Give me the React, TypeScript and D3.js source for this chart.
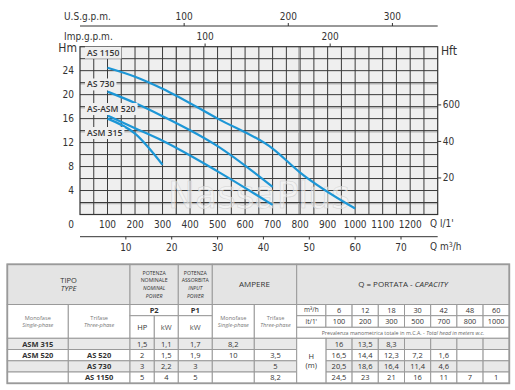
import React, { useEffect, useRef } from 'react';
import * as d3 from 'd3';

// pump curve data
const flowLpm = [100, 200, 300, 500, 700, 800, 1000];
const flowM3h = [6, 12, 18, 30, 42, 48, 60];
const headASM315 = [16, 13.5, 8.3];
const headASM520 = [16.5, 14.4, 12.3, 7.2, 1.6];
const headAS730 = [20.5, 18.6, 16.4, 11.4, 4.6];
const headAS1150 = [24.5, 23, 21, 16, 11, 7, 1];
const curveNames = ['AS 1150', 'AS 730', 'AS-ASM 520', 'ASM 315'];

// axis ticks
const lpmTicks = [100, 200, 300, 400, 500, 600, 700, 800, 900, 1000, 1100, 1200];
const headTicks = [4, 8, 12, 16, 20, 24];
const ftTicks = [20, 40, 60];
const ftTickLabels = ['20', '40', '600'];
const usGpmTicks = [100, 200, 300];
const impGpmTicks = [100, 200];
const m3hTicks = [10, 20, 30, 40, 50, 60, 70];

// table columns
const monofase = ['ASM 315', 'ASM 520', '', ''];
const trifase = ['', 'AS 520', 'AS 730', 'AS 1150'];
const powerHP = ['1,5', '2', '3', '5'];
const powerKW = ['1,1', '1,5', '2,2', '4'];
const inputKW = ['1,7', '1,9', '3', '5'];
const ampMono = ['8,2', '10', '', ''];
const ampTri = ['', '3,5', '5', '8,2'];

const CHART_FONT = "'DejaVu Sans Condensed', 'Liberation Sans Narrow', 'Roboto', sans-serif";
const TABLE_FONT = "'Open Sans', 'Noto Sans', sans-serif";

function App() {
  const ref = useRef<SVGSVGElement>(null);

  useEffect(() => {
    const svg = d3.select(ref.current);
    svg.selectAll('*').remove();

    const x = d3.scaleLinear().domain([0, 1300]).range([80, 437.7]);
    const y = d3.scaleLinear().domain([0, 28]).range([214.5, 46.7]);
    const blue = '#1c96d6';

    const g = svg.append('g').style('font-family', CHART_FONT).attr('fill', '#333');

    // plot background
    g.append('rect')
      .attr('x', x(0)).attr('y', y(28))
      .attr('width', x(1300) - x(0)).attr('height', y(0) - y(28))
      .attr('fill', '#efefef');

    // faint secondary lines
    [22, 18, 14, 2].forEach(h => {
      g.append('line').attr('x1', x(0)).attr('x2', x(1300))
        .attr('y1', y(h) + 1.2).attr('y2', y(h) + 1.2)
        .attr('stroke', '#b8b8b8').attr('stroke-width', 1.2);
    });
    [345, 790].forEach(q => {
      g.append('line').attr('y1', y(0)).attr('y2', y(28))
        .attr('x1', x(q) + 1.2).attr('x2', x(q) + 1.2)
        .attr('stroke', '#b8b8b8').attr('stroke-width', 1.2);
    });

    // grid
    g.selectAll('line.vg').data(d3.range(50, 1300, 50)).enter().append('line')
      .attr('x1', d => x(d)).attr('x2', d => x(d))
      .attr('y1', y(0)).attr('y2', y(28))
      .attr('stroke', '#3a3a3a').attr('stroke-width', 1);
    g.selectAll('line.hg').data(d3.range(2, 28, 2)).enter().append('line')
      .attr('x1', x(0)).attr('x2', x(1300))
      .attr('y1', d => y(d)).attr('y2', d => y(d))
      .attr('stroke', '#3a3a3a').attr('stroke-width', 1);

    g.append('rect')
      .attr('x', x(0)).attr('y', y(28))
      .attr('width', x(1300) - x(0)).attr('height', y(0) - y(28))
      .attr('fill', 'none').attr('stroke', '#333').attr('stroke-width', 1.2);

    // watermark
    g.append('text')
      .attr('x', 168).attr('y', 208)
      .attr('textLength', 182).attr('lengthAdjust', 'spacingAndGlyphs')
      .style('font-size', '38px')
      .attr('fill', '#f8f8f8').attr('fill-opacity', 0.55)
      .attr('stroke', '#d2d2d2').attr('stroke-width', 0.5)
      .text('NassaPlus');

    // curves
    const line = d3.line<[number, number]>()
      .x(d => x(d[0])).y(d => y(d[1]))
      .curve(d3.curveMonotoneX);
    [headAS1150, headAS730, headASM520, headASM315].forEach(heads => {
      g.append('path')
        .datum(heads.map((h, i) => [flowLpm[i], h] as [number, number]))
        .attr('d', line)
        .attr('fill', 'none')
        .attr('stroke', blue)
        .attr('stroke-width', 2.2);
    });

    // curve labels with background
    const labelH = [27.0, 21.7, 17.6, 13.6];
    curveNames.forEach((name, i) => {
      const t = g.append('text')
        .attr('x', 87).attr('y', y(labelH[i]))
        .attr('dy', '0.35em')
        .style('font-size', '8.6px')
        .style('font-weight', 600)
        .style('font-family', TABLE_FONT)
        .attr('fill', '#333')
        .text(name);
      const bb = (t.node() as SVGTextElement).getBBox();
      g.insert('rect', () => t.node() as any)
        .attr('x', bb.x - 2).attr('y', bb.y)
        .attr('width', bb.width + 4).attr('height', bb.height)
        .attr('fill', '#efefef');
    });

    // left axis
    const fs = '10px';
    g.selectAll('text.yl').data(headTicks).enter().append('text')
      .attr('x', 74).attr('y', d => y(d)).attr('dy', '0.35em')
      .attr('text-anchor', 'end').style('font-size', fs).text(d => d);
    g.append('text').attr('x', 74).attr('y', 224).attr('dy', '0.35em')
      .attr('text-anchor', 'end').style('font-size', fs).text('0');
    g.append('text').attr('x', 77).attr('y', 48).attr('dy', '0.35em')
      .attr('text-anchor', 'end').style('font-size', '12px').text('Hm');

    // right axis (feet)
    const ft = (v: number) => y(v * 0.3048);
    g.selectAll('line.rt').data(ftTicks).enter().append('line')
      .attr('x1', x(1300)).attr('x2', x(1300) + 3.5)
      .attr('y1', d => ft(d)).attr('y2', d => ft(d))
      .attr('stroke', '#333');
    g.selectAll('text.rl').data(ftTicks).enter().append('text')
      .attr('x', x(1300) + 5).attr('y', d => ft(d)).attr('dy', '0.35em')
      .style('font-size', fs).text((d, i) => ftTickLabels[i]);
    g.append('text').attr('x', 441).attr('y', 51).attr('dy', '0.35em')
      .style('font-size', '12px').text('Hft');

    // bottom l/min labels
    g.selectAll('text.xl').data(lpmTicks).enter().append('text')
      .attr('x', d => x(d)).attr('y', 224).attr('dy', '0.35em')
      .attr('text-anchor', 'middle').style('font-size', fs).text(d => d);
    g.append('text').attr('x', 430).attr('y', 223).attr('dy', '0.35em')
      .style('font-size', fs).text("Q  l/1'");

    // m3/h axis
    const m3 = (v: number) => x(v * 1000 / 60);
    g.append('line').attr('x1', x(0)).attr('x2', x(1300))
      .attr('y1', 236.7).attr('y2', 236.7).attr('stroke', '#333');
    g.selectAll('line.mt').data(m3hTicks).enter().append('line')
      .attr('x1', d => m3(d)).attr('x2', d => m3(d))
      .attr('y1', 236.7).attr('y2', 239.5).attr('stroke', '#333');
    g.selectAll('text.ml').data(m3hTicks).enter().append('text')
      .attr('x', d => m3(d)).attr('y', 247).attr('dy', '0.35em')
      .attr('text-anchor', 'middle').style('font-size', fs).text(d => d);
    const qm = g.append('text').attr('x', 430).attr('y', 246).attr('dy', '0.35em')
      .style('font-size', fs);
    qm.append('tspan').text('Q  m');
    qm.append('tspan').attr('dy', -3).style('font-size', '7px').text('3');
    qm.append('tspan').attr('dy', 3).text('/h');

    // US gpm axis
    const us = (v: number) => x(v * 3.785);
    g.append('line').attr('x1', x(0)).attr('x2', x(1300))
      .attr('y1', 26).attr('y2', 26).attr('stroke', '#333');
    g.selectAll('line.ut').data(usGpmTicks).enter().append('line')
      .attr('x1', d => us(d)).attr('x2', d => us(d))
      .attr('y1', 23).attr('y2', 26).attr('stroke', '#333');
    g.selectAll('text.ul').data(usGpmTicks).enter().append('text')
      .attr('x', d => us(d)).attr('y', 16).attr('dy', '0.35em')
      .attr('text-anchor', 'middle').style('font-size', fs).text(d => d);
    g.append('text').attr('x', 64).attr('y', 16).attr('dy', '0.35em')
      .style('font-size', fs).text('U.S.g.p.m.');

    // Imp gpm axis
    const imp = (v: number) => x(v * 4.546);
    g.selectAll('line.it').data(impGpmTicks).enter().append('line')
      .attr('x1', d => imp(d)).attr('x2', d => imp(d))
      .attr('y1', 43.5).attr('y2', y(28)).attr('stroke', '#333');
    g.selectAll('text.il').data(impGpmTicks).enter().append('text')
      .attr('x', d => imp(d)).attr('y', 36).attr('dy', '0.35em')
      .attr('text-anchor', 'middle').style('font-size', fs).text(d => d);
    g.append('text').attr('x', 64).attr('y', 36).attr('dy', '0.35em')
      .style('font-size', fs).text('Imp.g.p.m.');

    // ---------------- table ----------------
    const t = svg.append('g').style('font-family', TABLE_FONT);
    const border = '#9a9a9a';
    const hdrFill = '#e4e4e4';
    const grey = '#e9e9e9';

    const qx0 = 325.9;
    const qw = 26.2;
    const colX = [7.3, 68.3, 130, 154.3, 178.3, 212.3, 254.3, 296.7];
    const rowY = [264.3, 304.5, 315.7, 327.3, 338.3];
    const dataY = [338.3, 349.5, 360.8, 372, 383.3];
    const tableRight = qx0 + qw * flowLpm.length;

    type Line = { s: string; italic?: boolean; bold?: boolean; size?: number; color?: string };
    const cell = (x0: number, x1: number, y0: number, y1: number, fill: string, lines: Line[], gap = 7) => {
      t.append('rect').attr('x', x0).attr('y', y0)
        .attr('width', x1 - x0).attr('height', y1 - y0)
        .attr('fill', fill).attr('stroke', border).attr('stroke-width', 1);
      const cy = (y0 + y1) / 2;
      lines.forEach((l, i) => {
        t.append('text')
          .attr('x', (x0 + x1) / 2)
          .attr('y', cy + (i - (lines.length - 1) / 2) * gap)
          .attr('dy', '0.35em')
          .attr('text-anchor', 'middle')
          .style('font-size', (l.size || 7.5) + 'px')
          .style('font-style', l.italic ? 'italic' : 'normal')
          .style('font-weight', l.bold ? 700 : 400)
          .attr('fill', l.color || '#333')
          .text(l.s);
      });
    };

    // header row
    cell(colX[0], colX[2], rowY[0], rowY[1], hdrFill,
      [{ s: 'TIPO', size: 7.5 }, { s: 'TYPE', italic: true, size: 7.5 }], 8.5);
    cell(colX[2], colX[4], rowY[0], rowY[1], hdrFill, [
      { s: 'POTENZA', size: 5.2 }, { s: 'NOMINALE', size: 5.2 },
      { s: 'NOMINAL', size: 5.2, italic: true }, { s: 'POWER', size: 5.2, italic: true }], 7.7);
    cell(colX[4], colX[5], rowY[0], rowY[1], hdrFill, [
      { s: 'POTENZA', size: 5.2 }, { s: 'ASSORBITA', size: 5.2 },
      { s: 'INPUT', size: 5.2, italic: true }, { s: 'POWER', size: 5.2, italic: true }], 7.7);
    cell(colX[5], colX[7], rowY[0], rowY[1], hdrFill, [{ s: 'AMPERE', size: 8 }]);
    cell(colX[7], tableRight, rowY[0], rowY[1], hdrFill, []);
    const qt = t.append('text').attr('x', (colX[7] + tableRight) / 2).attr('y', (rowY[0] + rowY[1]) / 2)
      .attr('dy', '0.35em').attr('text-anchor', 'middle').style('font-size', '8px').attr('fill', '#333');
    qt.append('tspan').text('Q = PORTATA - ');
    qt.append('tspan').style('font-style', 'italic').text('CAPACITY');

    // sub header
    const sub = (a: string, b: string): Line[] => [
      { s: a, size: 5.6, color: '#777' }, { s: b, size: 5.6, italic: true, color: '#777' }];
    cell(colX[0], colX[1], rowY[1], rowY[4], '#fff', sub('Monofase', 'Single-phase'));
    cell(colX[1], colX[2], rowY[1], rowY[4], '#fff', sub('Trifase', 'Three-phase'));
    cell(colX[2], colX[4], rowY[1], rowY[2], '#fff', [{ s: 'P2', bold: true, size: 7.5 }]);
    cell(colX[4], colX[5], rowY[1], rowY[2], '#fff', [{ s: 'P1', bold: true, size: 7.5 }]);
    cell(colX[2], colX[3], rowY[2], rowY[4], '#fff', [{ s: 'HP', size: 7.5 }]);
    cell(colX[3], colX[4], rowY[2], rowY[4], '#fff', [{ s: 'kW', size: 7.5, color: '#555' }]);
    cell(colX[4], colX[5], rowY[2], rowY[4], '#fff', [{ s: 'kW', size: 7.5, color: '#555' }]);
    cell(colX[5], colX[6], rowY[1], rowY[4], '#fff', sub('Monofase', 'Single-phase'));
    cell(colX[6], colX[7], rowY[1], rowY[4], '#fff', sub('Trifase', 'Three-phase'));

    // Q header rows
    cell(colX[7], qx0, rowY[1], rowY[2], '#fff', [{ s: 'm³/h', size: 6.5 }]);
    cell(colX[7], qx0, rowY[2], rowY[3], '#fff', [{ s: "lt/1'", size: 6.5 }]);
    flowM3h.forEach((v, i) => {
      cell(qx0 + qw * i, qx0 + qw * (i + 1), rowY[1], rowY[2], '#fff', [{ s: String(v), size: 7.3 }]);
      cell(qx0 + qw * i, qx0 + qw * (i + 1), rowY[2], rowY[3], '#fff', [{ s: String(flowLpm[i]), size: 7.3 }]);
    });
    cell(colX[7], tableRight, rowY[3], rowY[4], '#fff', []);
    const pv = t.append('text').attr('x', (colX[7] + tableRight) / 2).attr('y', (rowY[3] + rowY[4]) / 2)
      .attr('dy', '0.35em').attr('text-anchor', 'middle').style('font-size', '5.3px').attr('fill', '#666');
    pv.append('tspan').text('Prevalenza manometrica totale in m.C.A. - ');
    pv.append('tspan').style('font-style', 'italic').text('Total head in meters w.c.');

    // data rows
    const heads = [headASM315, headASM520, headAS730, headAS1150];
    const fmt = (v: number) => String(v).replace('.', ',');
    heads.forEach((hs, r) => {
      const y0 = dataY[r];
      const y1 = dataY[r + 1];
      const fill = r % 2 === 0 ? grey : '#fff';
      cell(colX[0], colX[1], y0, y1, fill, [{ s: monofase[r], bold: true, size: 7.5 }]);
      cell(colX[1], colX[2], y0, y1, fill, [{ s: trifase[r], bold: true, size: 7.5 }]);
      cell(colX[2], colX[3], y0, y1, fill, [{ s: powerHP[r] }]);
      cell(colX[3], colX[4], y0, y1, fill, [{ s: powerKW[r] }]);
      cell(colX[4], colX[5], y0, y1, fill, [{ s: inputKW[r] }]);
      cell(colX[5], colX[6], y0, y1, fill, [{ s: ampMono[r] }]);
      cell(colX[6], colX[7], y0, y1, fill, [{ s: ampTri[r] }]);
      flowLpm.forEach((q, i) => {
        const v = hs[i];
        cell(qx0 + qw * i, qx0 + qw * (i + 1), y0, y1, fill, [{ s: v === undefined ? '' : fmt(v) }]);
      });
    });
    cell(colX[7], qx0, dataY[0], dataY[4], '#fff', [{ s: 'H', size: 7.5 }, { s: '(m)', size: 7.5 }], 8.5);

    t.append('rect').attr('x', colX[0]).attr('y', rowY[0])
      .attr('width', tableRight - colX[0]).attr('height', dataY[4] - rowY[0])
      .attr('fill', 'none').attr('stroke', border).attr('stroke-width', 1.8);
  }, []);

  return (
    <svg ref={ref} width={515} height={390}
      style={{ position: 'absolute', left: 0, top: 0, background: '#fff' }} />
  );
}

export default App;
